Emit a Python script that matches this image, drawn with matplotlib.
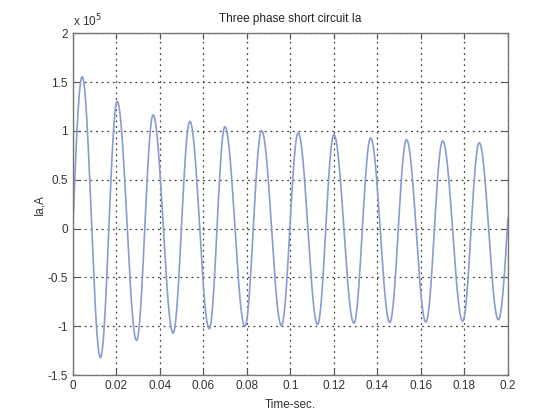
import numpy as np
import matplotlib.pyplot as plt
from matplotlib.ticker import FuncFormatter

# values (time in s, current in A)
start_t, start_i = 0.0, 0.0
peak_t = [0.0043, 0.0204, 0.0369, 0.0538, 0.0699, 0.0868, 0.1036, 0.1200, 0.1369, 0.1534, 0.1700, 0.1868]
peak_i = [1.554e5, 1.302e5, 1.163e5, 1.097e5, 1.043e5, 1.002e5, 0.979e5, 0.961e5, 0.927e5, 0.910e5, 0.897e5, 0.879e5]
trough_t = [0.0127, 0.0293, 0.0461, 0.0627, 0.0791, 0.0959, 0.1125, 0.1292, 0.1457, 0.1623, 0.1792, 0.1956]
trough_i = [-1.322e5, -1.145e5, -1.070e5, -1.026e5, -1.002e5, -0.992e5, -0.982e5, -0.968e5, -0.961e5, -0.958e5, -0.948e5, -0.934e5]
end_t, end_i = 0.2, 0.1e5

# merge extrema in time order
ext = sorted(zip(peak_t + trough_t, peak_i + trough_i))
pts = [(start_t, start_i)] + ext + [(end_t, end_i)]

# draw each piece between read points with a sine shape
t_all, i_all = [], []
n = len(pts) - 1
for k in range(n):
    (t0, v0), (t1, v1) = pts[k], pts[k + 1]
    s = np.linspace(0, 1, 60)
    if k == 0:
        w = np.sin(np.pi / 2 * s)
    elif k == n - 1:
        w = 1 - np.cos(np.pi / 2 * s)
    else:
        w = (1 - np.cos(np.pi * s)) / 2
    t_all.append(t0 + (t1 - t0) * s)
    i_all.append(v0 + (v1 - v0) * w)
t_all = np.concatenate(t_all)
i_all = np.concatenate(i_all)

plt.rcParams['font.family'] = ['Liberation Sans', 'DejaVu Sans']
plt.rcParams['font.size'] = 8

fig = plt.figure(figsize=(5.6, 4.2), dpi=100)
ax = fig.add_axes([0.13, 0.107, 0.777, 0.814])
ax.plot(t_all, i_all, color='#8a9bd0', lw=1.2)

ax.set_xlim(0, 0.2)
ax.set_ylim(-1.5e5, 2e5)
ax.set_xticks(np.arange(0, 0.2001, 0.02))
ax.set_yticks(np.arange(-1.5e5, 2.01e5, 0.5e5))
ax.xaxis.set_major_formatter(FuncFormatter(lambda v, p: '%g' % round(v, 4)))
ax.yaxis.set_major_formatter(FuncFormatter(lambda v, p: '%g' % round(v / 1e5, 2)))
ax.tick_params(direction='in', top=True, right=True, length=4, color='#555555',
               labelcolor='#333333', labelsize=8.5)
ax.grid(True, linestyle=(0, (1.5, 3)), color='#444444', lw=0.9)
for sp in ax.spines.values():
    sp.set_color('#777777')
    sp.set_linewidth(1.0)

ax.set_title('Three phase short circuit Ia', fontsize=8.5, color='#222222', pad=8)
ax.set_xlabel('Time-sec.', fontsize=8.5, color='#333333', labelpad=5)
ax.set_ylabel('Ia,A', fontsize=8.5, color='#333333')
ax.yaxis.set_label_coords(-0.064, 0.5)
ax.text(0.0, 1.012, r'x 10$^5$', transform=ax.transAxes, fontsize=8.5,
        color='#333333', ha='left', va='bottom')

fig.savefig('out.png', dpi=100)
